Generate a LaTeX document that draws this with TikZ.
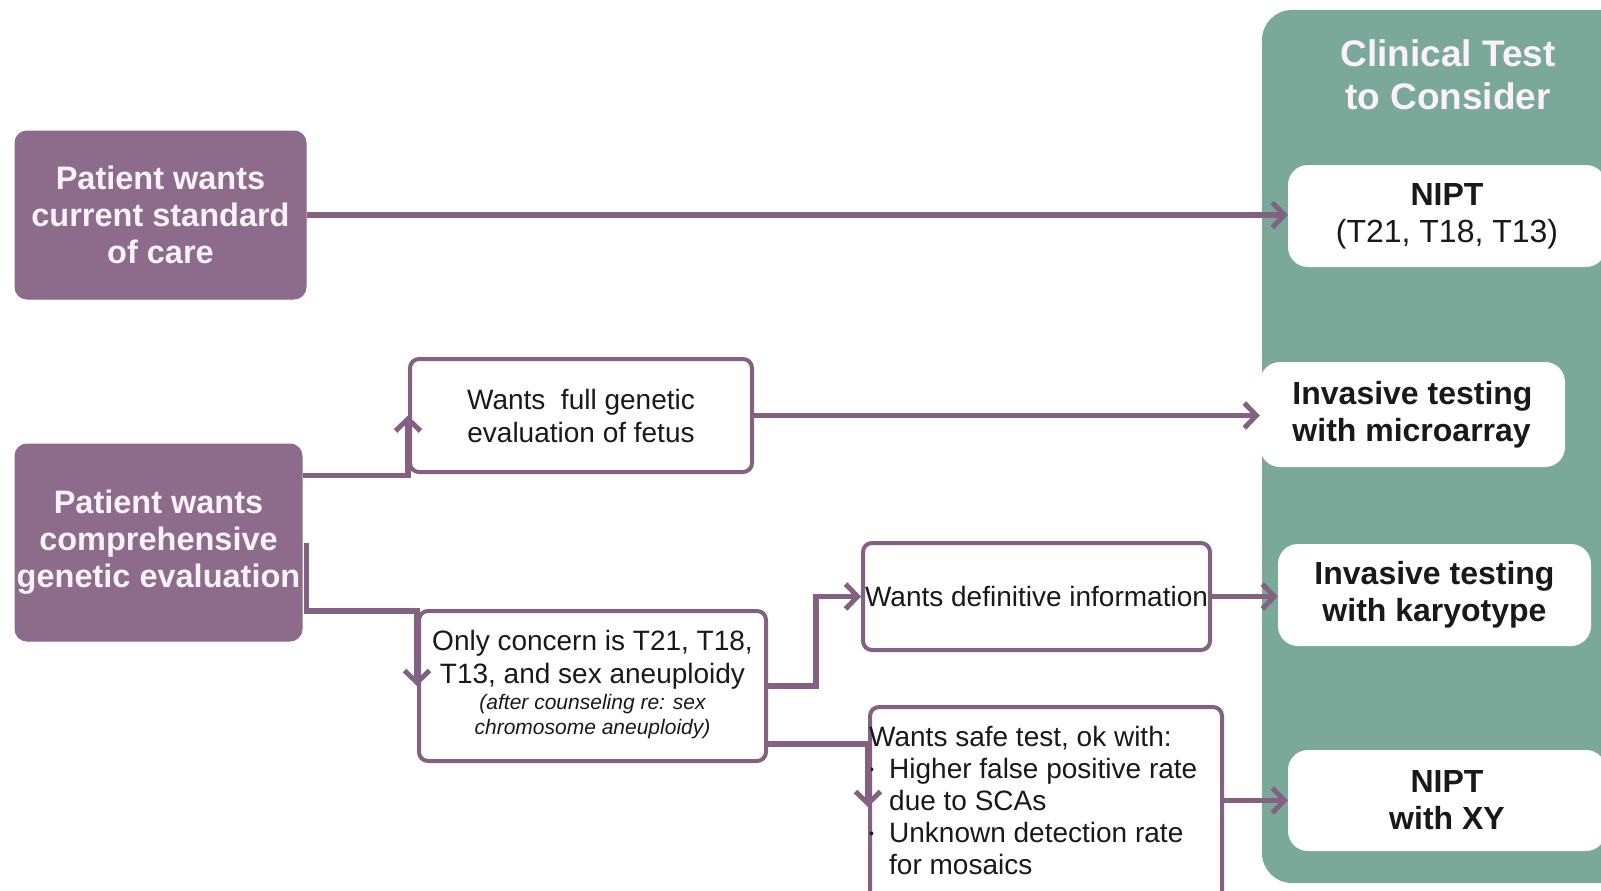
\documentclass[tikz,border=0pt]{standalone}
\usepackage{fontspec}
\setmainfont{Liberation Sans}
\usetikzlibrary{arrows.meta}
\definecolor{plum}{RGB}{141,107,139}
\definecolor{plumline}{RGB}{130,98,128}
\definecolor{sage}{RGB}{122,168,153}
\definecolor{ink}{RGB}{25,25,25}
\definecolor{paper}{RGB}{250,242,248}
\setlength{\parindent}{0pt}
\begin{document}
\begin{tikzpicture}[x=1pt,y=-1pt,
  choice/.style={fill=plum,draw=plum,line width=1pt,rounded corners=12pt,text=paper,
    font=\bfseries\fontsize{32.5}{37}\selectfont,align=center,inner sep=0pt},
  wish/.style={fill=white,draw=plumline,line width=4pt,rounded corners=9pt,text=ink,
    font=\fontsize{28}{33}\selectfont,align=center,inner sep=0pt},
  test/.style={fill=white,rounded corners=20pt,text=ink,
    font=\bfseries\fontsize{32}{37}\selectfont,align=center,inner sep=0pt},
  link/.style={draw=plumline,line width=5.5pt,-{Straight Barb[length=12pt,width=25pt,line width=5pt]}}]
\clip(0,0)rectangle(1601,891);
\fill[white](0,0)rectangle(1601,891);
%
\fill[sage,rounded corners=30pt](1262,10)rectangle(1640,883);
\node[font=\bfseries\fontsize{37}{43}\selectfont,text=paper,align=center](head)at(1448,75){Clinical Test\\to Consider};
%
\node[choice,minimum width=291,minimum height=168](care)at(160.5,215){Patient wants\\current standard\\of care};
\node[choice,minimum width=287,minimum height=197](compr)at(158.5,542.5){Patient wants\\comprehensive\\genetic evaluation};
%
\node[wish,minimum width=342,minimum height=113](full)at(581,415.5){Wants~ full genetic\\evaluation of fetus};
\node[wish,minimum width=347,minimum height=150](only)at(592.5,686){Only concern is T21, T18,\\T13, and sex aneuploidy\\[-7pt]
{\fontsize{21}{25}\selectfont\itshape\begin{tabular}[t]{@{}c@{}}(after counseling re: sex\\chromosome aneuploidy)\end{tabular}}};
\node[wish,minimum width=347,minimum height=107](defin)at(1036.5,596.5){Wants definitive information};
\node[wish,anchor=north west,minimum width=352,minimum height=230](safe)at(868,705){};
\node[anchor=north west,align=left,font=\fontsize{28}{32}\selectfont,text=ink,inner sep=0pt](safetxt)
  at([xshift=1pt,yshift=-21pt]safe.north west){Wants safe test, ok with:\\
\makebox[20pt][l]{\raisebox{4pt}{\fontsize{14}{14}\selectfont\textbullet}}Higher false positive rate\\
\hspace*{20pt}due to SCAs\\
\makebox[20pt][l]{\raisebox{4pt}{\fontsize{14}{14}\selectfont\textbullet}}Unknown detection rate\\
\hspace*{20pt}for mosaics};
%
\node[test,minimum width=318,minimum height=102](nipt)at(1447,216){NIPT\\\mdseries(T21, T18, T13)};
\node[test,minimum width=305,minimum height=105,align=left](micro)at(1412.5,414.5){Invasive testing\\with microarray};
\node[test,minimum width=313,minimum height=102](karyo)at(1434.5,595){Invasive testing\\with karyotype};
\node[test,minimum width=318,minimum height=101](xy)at(1447,800.5){NIPT\\with XY};
%
\draw[link](care.east)--(care.east-|nipt.west);
\draw[link]([yshift=-32pt]compr.north east)-|(full.west);
\draw[link]([xshift=4pt]compr.east)|-([yshift=-2pt]only.north west)--(only.west);
\draw[link](full.east)--(full.east-|micro.west);
\draw[link](only.east)--++(48,0)|-(defin.west);
\draw[link]([yshift=19pt]only.south east)-|([yshift=-102pt]safe.north west);
\draw[link](defin.east)--(defin.east-|karyo.west);
\draw[link](safe.east|-xy.west)--(xy.west);
\end{tikzpicture}
\end{document}
